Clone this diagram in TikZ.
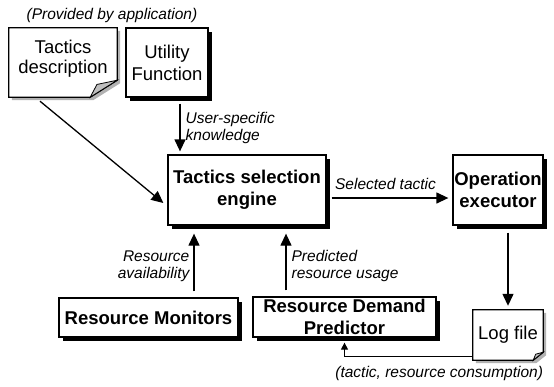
\documentclass[tikz,border=0pt]{standalone}
\usepackage{fontspec}
\setmainfont{Liberation Sans}
\usetikzlibrary{positioning,arrows.meta,backgrounds}
\tikzset{
  box/.style={draw, line width=1.3pt, fill=white, align=center, inner sep=1pt,
              preaction={fill=black, transform canvas={xshift=3.5pt, yshift=-3.5pt}}},
  bigbox/.style={box, font=\fontsize{18.5}{22}\selectfont\bfseries},
  plainbox/.style={box, font=\fontsize{18.5}{22}\selectfont},
  page/.style={align=center, inner sep=1pt, font=\fontsize{18.5}{20}\selectfont},
  note/.style={font=\fontsize{15.5}{17}\selectfont\itshape, inner sep=2pt},
  flow/.style={-{Triangle[length=12pt,width=11pt]}, line width=1.3pt},
  smallflow/.style={-{Triangle[length=7pt,width=7pt]}, line width=1.3pt},
}
% page with a folded corner, drawn behind node #1 (#2, #3: size of the fold)
\newcommand{\docpage}[3]{%
  \begin{scope}[on background layer]
    \fill[gray!60, transform canvas={xshift=3pt, yshift=-3pt}]
      (#1.north west) -- (#1.north east) -- ([yshift=#3]#1.south east)
      -- ([xshift=-#2]#1.south east) -- (#1.south west) -- cycle;
    \draw[line width=1.3pt, fill=white]
      (#1.north west) -- (#1.north east) -- ([yshift=#3]#1.south east)
      -- ([xshift=-#2]#1.south east) -- (#1.south west) -- cycle;
    \draw[line width=0.8pt, fill=gray!50]
      ([yshift=#3]#1.south east) -- ([xshift=-#2]#1.south east)
      -- ([xshift=-0.75*#2, yshift=0.75*#3]#1.south east) -- cycle;
  \end{scope}}

\begin{document}
\begin{tikzpicture}[x=1pt, y=-1pt]
  \useasboundingbox (0,0) rectangle (554,386);

  % supplied by the application
  \node[page, minimum width=108pt, minimum height=69pt] (tdesc) at (63,62.5) {Tactics\\description\\[-9pt]};
  \docpage{tdesc}{27pt}{17pt}
  \node[plainbox, minimum width=82pt, minimum height=69pt] (util) at (167,62.5) {Utility\\Function};
  \node[note] (supplied) at (112,15) {(Provided by application)};

  % main blocks
  \node[bigbox, minimum width=158pt, minimum height=70pt] (engine) at (247,190) {Tactics selection\\engine};
  \node[bigbox, minimum width=90pt, minimum height=70pt] (exec) at (498,190) {Operation\\executor};
  \node[bigbox, minimum width=179pt, minimum height=39pt] (mon) at (148.5,317.5) {Resource Monitors};
  \node[bigbox, minimum width=183pt, minimum height=40pt] (pred) at (344.5,317) {Resource Demand\\Predictor};
  \node[page, minimum width=70pt, minimum height=50pt] (log) at (508,335) {Log file};
  \docpage{log}{10pt}{8pt}
  \node[note, anchor=north east] (consume) at ([xshift=2pt, yshift=-4pt]log.south east) {(tactic, resource consumption)};

  % connectors
  \draw[flow] ([xshift=-23pt, yshift=-4pt]tdesc.south) -- ([xshift=-4pt, yshift=-13pt]engine.west);
  \draw[flow, shorten >=3pt] ([xshift=13pt, yshift=-6pt]util.south) -- ([xshift=13pt]util.south |- engine.north)
    node[note, midway, right, align=left, xshift=3pt, yshift=1pt] {User-specific\\knowledge};
  \draw[flow, shorten <=5pt, shorten >=4pt] ([yshift=-8pt]engine.east) -- ([yshift=-8pt]engine.east -| exec.west)
    node[note, midway, above, xshift=-4pt, yshift=6pt] {Selected tactic};
  \draw[flow, shorten >=8pt] ([xshift=45.5pt, yshift=6pt]mon.north) -- ([xshift=45.5pt]mon.north |- engine.south)
    node[note, midway, left, align=right, xshift=-2pt, yshift=-8pt] {Resource\\availability};
  \draw[flow, shorten >=8pt] ([xshift=-58.5pt, yshift=6pt]pred.north) -- ([xshift=-58.5pt]pred.north |- engine.south)
    node[note, midway, right, align=left, xshift=3pt, yshift=-8pt] {Predicted\\resource usage};
  \draw[flow, shorten <=7pt, shorten >=4pt] (exec.south -| log.north) -- (log.north);
  \draw[smallflow, shorten >=5pt] ([yshift=4pt]log.south west) -| (pred.south);

\end{tikzpicture}
\end{document}
